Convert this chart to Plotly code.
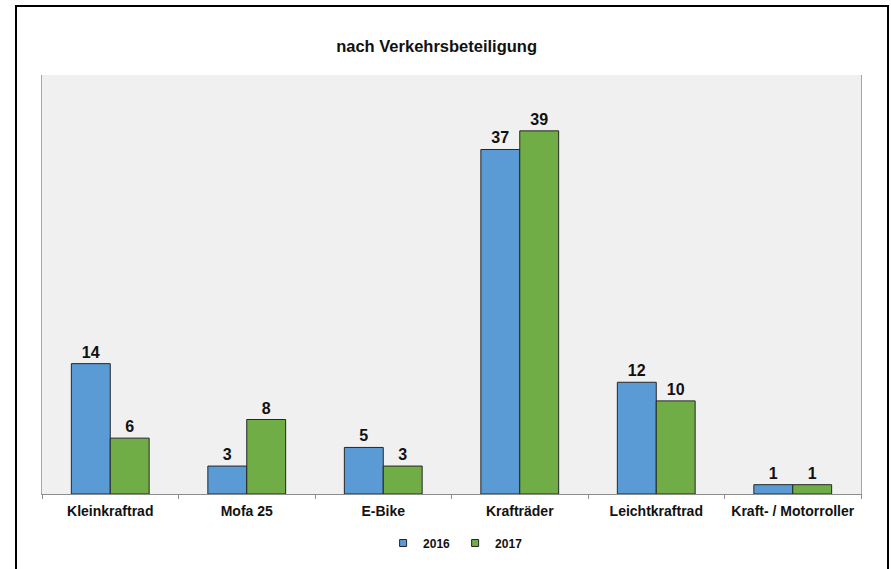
import plotly.graph_objects as go

categories = ["Kleinkraftrad", "Mofa 25", "E-Bike", "Krafträder", "Leichtkraftrad", "Kraft- / Motorroller"]
values_2016 = [14, 3, 5, 37, 12, 1]
values_2017 = [6, 8, 3, 39, 10, 1]
series_names = ["2016", "2017"]
title_text = "nach Verkehrsbeteiligung"

W, H = 891, 569
L, R, T, B = 42, 30, 75, 75
FONT = "Liberation Sans, Arial"
colors = ["#5b9bd5", "#70ad47"]

fig = go.Figure()
for name, vals, col in [(series_names[0], values_2016, colors[0]), (series_names[1], values_2017, colors[1])]:
    fig.add_trace(go.Bar(
        x=categories, y=vals, name=name, showlegend=False,
        marker=dict(color=col, line=dict(color="#262626", width=1)),
        text=[str(v) for v in vals], textposition="outside", cliponaxis=False,
        textfont=dict(family=FONT, size=16, color="#111111", weight="bold"),
        hoverinfo="skip",
    ))
# legend entries with small square markers
for name, col in zip(series_names, colors):
    fig.add_trace(go.Scatter(
        x=[None], y=[None], mode="markers", name=name,
        marker=dict(symbol="square", size=7, color=col, line=dict(color="#262626", width=1)),
    ))

fig.update_layout(
    width=W, height=H,
    margin=dict(l=L, r=R, t=T, b=B, autoexpand=False),
    paper_bgcolor="white", plot_bgcolor="#f0f0f0",
    barmode="group", bargap=0.43, bargroupgap=0,
    font=dict(family=FONT, color="#111111"),
    title=dict(text="<b>" + title_text + "</b>", x=0.49, xanchor="center", y=1 - 46 / H, yanchor="middle",
               font=dict(size=16.5, color="#111111")),
    showlegend=True,
    legend=dict(orientation="h", x=0.505, xanchor="center", y=(H - 543) / H, yref="container", yanchor="middle",
                font=dict(size=12, color="#111111", weight="bold"), itemwidth=30, traceorder="normal",
                bgcolor="rgba(0,0,0,0)", itemclick=False, itemdoubleclick=False),
)
fig.update_xaxes(
    type="category", showgrid=False, tickson="boundaries", ticks="outside", ticklen=4,
    tickcolor="#8c8c8c", showline=True, linecolor="#8c8c8c", linewidth=1, mirror=False,
    tickfont=dict(size=14, color="#111111", family=FONT, weight="bold"),
    ticklabelstandoff=4, automargin=False,
)
fig.update_yaxes(range=[0, 45], showgrid=False, showticklabels=False, zeroline=False,
                 showline=True, linecolor="#a6a6a6", linewidth=1, mirror=True, automargin=False)

# outer chart frame
fig.add_shape(type="rect", xref="paper", yref="paper",
              x0=-(L - 16) / (W - L - R), x1=1 + (R - 3) / (W - L - R),
              y0=-(B + 10) / (H - T - B), y1=1 + (T - 6) / (H - T - B),
              line=dict(color="black", width=2), fillcolor="rgba(0,0,0,0)", layer="below")

fig.write_html("out.html", config={"displayModeBar": False},
               post_script="document.body.style.margin='0';")
